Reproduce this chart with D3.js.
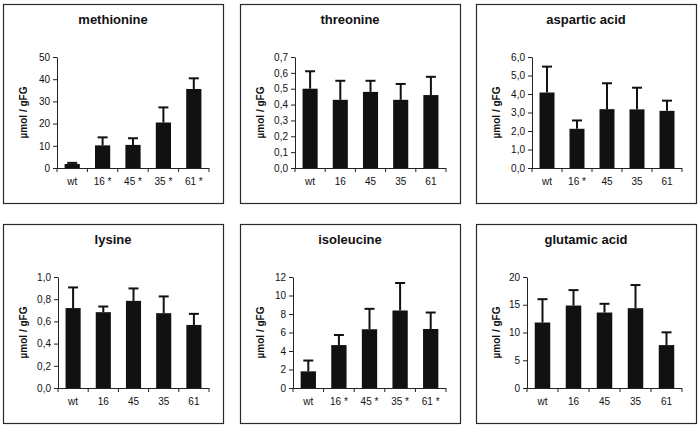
<!DOCTYPE html>
<html><head><meta charset="utf-8">
<script src="https://cdn.jsdelivr.net/npm/d3@7"></script>
<style>
html,body{margin:0;padding:0;background:#fff;}
text{font-family:"Liberation Sans",Arial,sans-serif;fill:#111;}
</style></head>
<body><svg id="c" width="700" height="428"></svg>
<script>
// ---- data ----
const titles = ["methionine","threonine","aspartic acid","lysine","isoleucine","glutamic acid"];
const categories = ["wt","16","45","35","61"];
const catLabels = [
  ["wt","16 *","45 *","35 *","61 *"],
  ["wt","16","45","35","61"],
  ["wt","16 *","45","35","61"],
  ["wt","16","45","35","61"],
  ["wt","16 *","45 *","35 *","61 *"],
  ["wt","16","45","35","61"]
];
const methionine   = [1.8, 10.2, 10.4, 20.5, 35.6];
const methionineSD = [0.5, 3.6, 3.0, 6.8, 4.8];
const threonine    = [0.50, 0.43, 0.48, 0.43, 0.46];
const threonineSD  = [0.11, 0.12, 0.07, 0.10, 0.115];
const aspartic     = [4.08, 2.12, 3.18, 3.17, 3.09];
const asparticSD   = [1.40, 0.45, 1.40, 1.17, 0.55];
const lysine       = [0.72, 0.683, 0.785, 0.674, 0.568];
const lysineSD     = [0.186, 0.051, 0.112, 0.151, 0.10];
const isoleucine   = [1.8, 4.64, 6.35, 8.38, 6.38];
const isoleucineSD = [1.17, 1.09, 2.21, 2.97, 1.78];
const glutamic     = [11.8, 14.86, 13.6, 14.38, 7.73];
const glutamicSD   = [4.2, 2.78, 1.57, 4.17, 2.3];
const yMax   = [50, 0.7, 6, 1, 12, 20];
const yStep  = [10, 0.1, 1, 0.2, 2, 5];
const yDecimals = [0, 1, 1, 1, 0, 0];
const yTitle = "µmol / gFG";

const values = [methionine, threonine, aspartic, lysine, isoleucine, glutamic];
const errors = [methionineSD, threonineSD, asparticSD, lysineSD, isoleucineSD, glutamicSD];

// ---- layout ----
const colX = [3, 240, 476], rowY = [4, 224];
const PW = 220, PH = 199;
const plotLeft = [54, 55, 56, 55, 53, 51];
const plotRight = 206, plotTop = 53, plotBottom = 164;

const svg = d3.select("#c");

titles.forEach((title, k) => {
  const ox = colX[k % 3], oy = rowY[Math.floor(k / 3)];
  const g = svg.append("g").attr("transform", `translate(${ox},${oy})`);
  g.append("rect").attr("x", 0.5).attr("y", 0.5).attr("width", PW).attr("height", PH)
    .attr("fill", "#fff").attr("stroke", "#2a2a2a").attr("stroke-width", 1.2);

  g.append("text").attr("x", PW / 2).attr("y", 19.5).attr("text-anchor", "middle")
    .style("font-size", "13px").style("font-weight", "bold").text(title);

  const L = plotLeft[k];
  const x = d3.scaleBand().domain(categories).range([L, plotRight]).paddingInner(0.5).paddingOuter(0.25);
  const y = d3.scaleLinear().domain([0, yMax[k]]).range([plotBottom, plotTop]);

  const ticks = d3.range(0, yMax[k] + yStep[k] / 2, yStep[k]);
  const fmt = v => d3.format("." + yDecimals[k] + "f")(v).replace(".", ",");
  const yAxis = g.append("g").attr("transform", `translate(${L},0)`)
    .call(d3.axisLeft(y).tickValues(ticks).tickFormat(fmt).tickSize(4).tickSizeOuter(0).tickPadding(3));
  yAxis.selectAll("text").style("font-size", "10px");
  yAxis.selectAll("line,path").attr("stroke", "#222");

  // x axis line with ticks at band boundaries
  const xa = g.append("g");
  xa.append("line").attr("x1", L).attr("x2", plotRight).attr("y1", plotBottom + 0.5).attr("y2", plotBottom + 0.5)
    .attr("stroke", "#222");
  const step = (plotRight - L) / categories.length;
  d3.range(categories.length + 1).forEach(i => {
    xa.append("line").attr("x1", L + i * step).attr("x2", L + i * step)
      .attr("y1", plotBottom).attr("y2", plotBottom + 4).attr("stroke", "#222");
  });
  categories.forEach((c, i) => {
    xa.append("text").attr("x", x(c) + x.bandwidth() / 2).attr("y", plotBottom + 17)
      .attr("text-anchor", "middle").style("font-size", "10px").text(catLabels[k][i]);
  });

  // y title
  g.append("text").attr("transform", `translate(24,${(plotTop + plotBottom) / 2}) rotate(-90)`)
    .attr("text-anchor", "middle").style("font-size", "10px").style("font-weight", "bold").text(yTitle);

  // bars
  const data = categories.map((c, i) => ({c, v: values[k][i], e: errors[k][i]}));
  g.selectAll("rect.bar").data(data).enter().append("rect").attr("class", "bar")
    .attr("x", d => x(d.c)).attr("width", x.bandwidth())
    .attr("y", d => y(d.v)).attr("height", d => y(0) - y(d.v)).attr("fill", "#111");
  // error bars (upward only)
  const eb = g.selectAll("g.err").data(data).enter().append("g").attr("class", "err");
  eb.append("line").attr("x1", d => x(d.c) + x.bandwidth() / 2).attr("x2", d => x(d.c) + x.bandwidth() / 2)
    .attr("y1", d => y(d.v)).attr("y2", d => y(d.v + d.e)).attr("stroke", "#111").attr("stroke-width", 2);
  eb.append("line").attr("x1", d => x(d.c) + x.bandwidth() / 2 - 5).attr("x2", d => x(d.c) + x.bandwidth() / 2 + 5)
    .attr("y1", d => y(d.v + d.e)).attr("y2", d => y(d.v + d.e)).attr("stroke", "#111").attr("stroke-width", 2);
});
</script></body></html>
